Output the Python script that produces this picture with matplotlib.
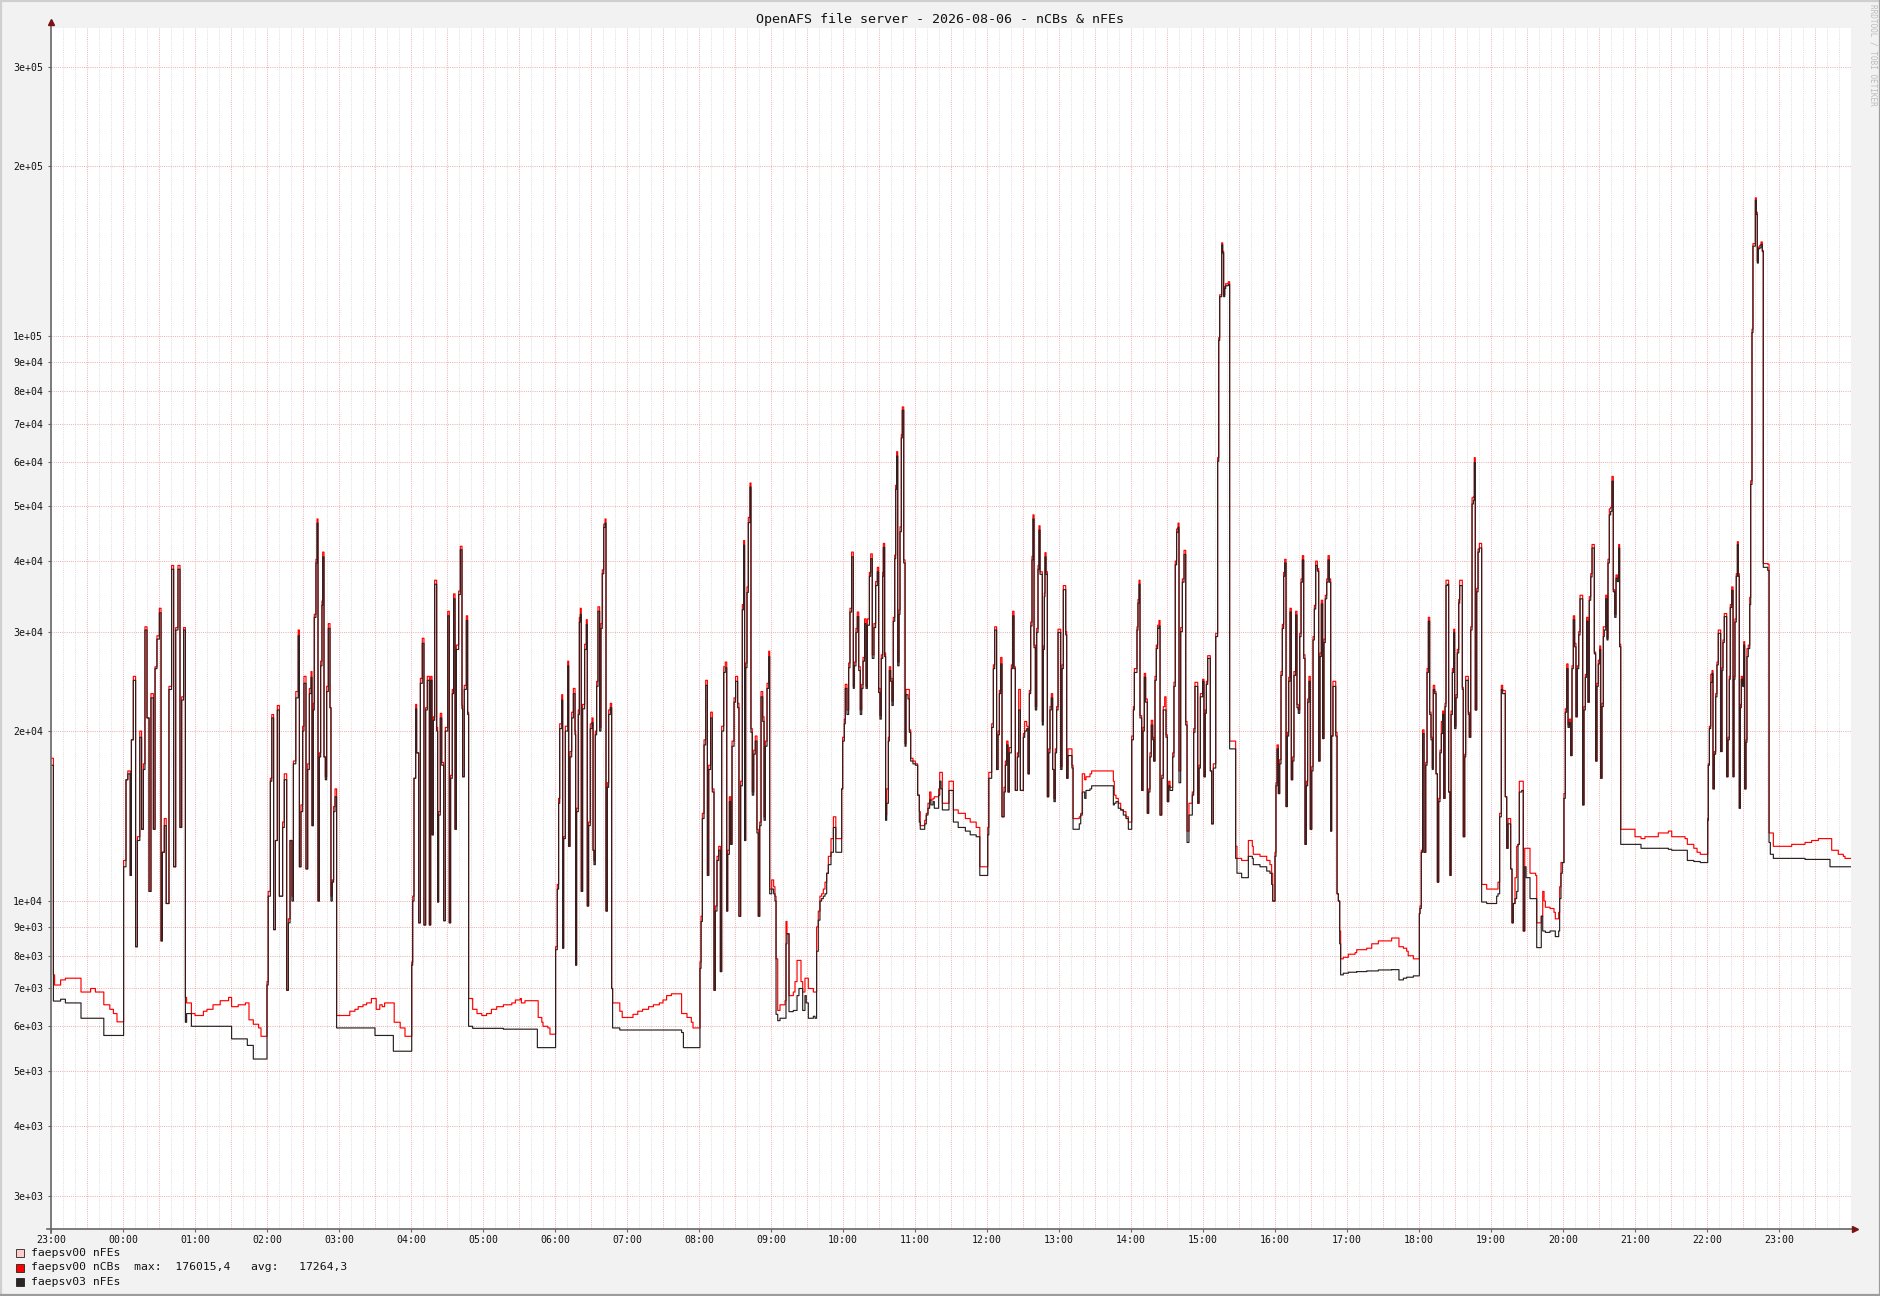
import numpy as np
import matplotlib
matplotlib.use('Agg')
import matplotlib.pyplot as plt
from matplotlib.lines import Line2D
from matplotlib.patches import Rectangle

# minutes since 23:00 (step starts), values in thousands
t_min = [
    # 23:00 quiet
    0, 2, 3, 8, 12, 25, 33, 37, 44, 49, 52, 55,
    # 00:00 busy
    60.5, 62.5, 64, 66, 67, 68.6, 70.5, 72, 74, 75.5,
    77, 78.3, 80, 81.7, 83.3, 85.3, 86.7, 88.3, 90.3, 91.7,
    92.8, 94.4, 96, 98.3, 100.5, 102.2, 103.9, 105.8, 107.5, 108.9,
    110.5,
    # 00:52 quiet
    112, 113, 117, 120, 127, 130, 135, 141, 148, 150.5,
    156, 162, 163.6, 165, 168.6, 173, 175,
    # 02:00 busy
    180, 181, 182.8, 184, 185.5, 187, 188.6, 190.3, 193, 194.4,
    196.4, 197.8, 199.2, 200.8, 202, 204, 206, 207, 208.3, 209.7,
    210.8, 212.5, 213.9, 215.3, 216.7, 217.5, 218.6, 219.4, 220.8, 221.7,
    222.5, 223.6, 224.7, 225.8, 226.4, 227.5, 228.6, 229.7, 231.1, 232.5,
    233.3, 234.4, 235.5, 236.7,
    # 02:58 quiet
    238, 249, 253.3, 256, 260, 263, 267, 270, 271, 274,
    276, 278, 285.3, 286, 291, 295,
    # 04:00 busy
    300.6, 301.4, 302.5, 303.9, 304.7, 306.4, 307.8, 309.4, 310.8, 312.2,
    313.6, 315.3, 316.4, 317.5, 318.6, 319.7, 321.4, 322.2, 323, 324.4,
    325.6, 327.2, 328.6, 330.6, 331.9, 333, 334.4, 335.5, 336.7, 337.8,
    339.7, 341.1, 342.5, 343, 344.4, 346.1, 347.2,
    # 04:48 quiet
    348, 351.4, 355, 359, 363, 367, 371.4, 377, 384, 387,
    391, 392, 395, 405.3, 406, 409, 410, 414, 415.8,
    # 06:00 busy
    420.5, 421.9, 423, 423.9, 425.6, 426.4, 427.2, 428.6, 430.6, 431.4,
    432.5, 433.9, 435.3, 436.7, 437.2, 438, 439.4, 440.3, 441.1, 441.9,
    443, 444.7, 446.1, 446.9, 448, 449.4, 450.8, 451.7, 452.5, 453.6,
    454.7, 455.8, 457.2, 458.3, 459.4, 460.6, 461.7, 462.5, 463.6, 464.7,
    466.1, 467.2,
    # 06:48 quiet
    468, 474, 476, 485, 489, 493, 498, 502, 507, 510,
    513, 517, 525.5, 527, 530, 533.6, 535,
    # 08:00 busy
    540.8, 541.7, 542.8, 544.2, 545.6, 547, 548.1, 549.7, 551.1, 552.5,
    553.6, 555, 556.4, 557.8, 558.9, 560.6, 561.9, 563.1, 563.9, 565.3,
    566.4, 567.5, 569.2, 570.5, 572.2, 573.3, 574.7, 576.1, 577.2, 578,
    578.9, 580, 581.1, 582.5, 583.3, 584.4, 585.6, 586.9, 588.3, 589.4,
    590.6, 591.7, 593.1, 594.2, 595.3, 596.7, 598.1, 598.9,
    # 09:00 low
    600.6, 602.2, 603.3, 604.2, 605.6, 607.5, 611.7, 612.5, 613.3, 615,
    618.6, 620, 621.7, 623.3, 625, 626.4, 628.3, 629.4, 631.1, 635.3,
    636.7, 638, 639.4, 640.8, 642.2, 643.6, 645, 646.4, 647.8, 650,
    652, 654, 658.9, 659.7,
    # 10:00 busy, 11:00 plateau
    661.1, 661.9, 663.3, 664.7, 665.8, 667.2, 668.6, 669.4, 670.8, 671.9,
    673.1, 674.4, 675.6, 676.7, 678, 679.2, 680.3, 682, 683.1, 684.4,
    685.8, 687.2, 688.6, 689.7, 690.8, 691.9, 693.1, 693.6, 694.7, 695.5,
    696.4, 697.8, 698.6, 699.7, 700.8, 701.9, 703.1, 703.9, 704.7, 705.6,
    706.7, 707.5, 708.6, 709.4, 710.6, 711.7, 712.5, 714.2, 715.3, 716.4,
    718.3, 720.3, 722.2, 723.6, 724.4, 728.1, 729.4, 730.8, 732.2, 733.3,
    735, 736.1, 739.7, 740.6, 741.7, 742.8, 748.3, 752, 756, 762,
    766, 771, 774,
    # 12:00 busy, 13:05 plateau
    780.6, 781.5, 783.9, 785.3, 786.4, 788, 789.2, 790.3, 791.4, 792.5,
    794.2, 795.3, 796.4, 797.5, 798.6, 800.3, 801.4, 802.5, 803.6, 805.3,
    806.4, 807.8, 810.3, 811.4, 813.1, 814.2, 815.3, 816.4, 817.5, 818.3,
    819.2, 820.3, 821.4, 822.5, 823.3, 824.2, 826.1, 826.9, 827.8, 828.3,
    829.2, 830.3, 831.4, 832.5, 833.6, 834.7, 835.8, 836.9, 838, 839.2,
    841.4, 842.5, 843.6, 845.6, 846.4, 847.5, 850.8, 851.7, 856.9, 858.1,
    859.4, 861.4, 862.5, 865.8, 867.2, 885.3, 886.1, 887.5, 889.4, 891.4,
    893.6, 895.8, 897.8,
    # 14:00 busy, 15:00 peak
    900.6, 902, 902.8, 905, 905.8, 906.7, 907.5, 908.9, 910, 911.1,
    912.2, 913.6, 914.7, 915.8, 916.9, 918.1, 918.9, 920, 921.1, 922.2,
    923.3, 924.2, 925.6, 926.9, 928.1, 929.2, 930.3, 931.4, 932.5, 934.7,
    935.8, 936.9, 938, 939.2, 940, 941.4, 942.8, 944.2, 945.6, 946.7,
    948.3, 951.1, 952.2, 953.3, 955.6, 956.7, 957.8, 959.7, 960.8, 961.9,
    962.8, 963.9, 966.1, 967.2, 968.6, 970.6, 972.2, 973.1, 973.9, 975.6,
    976.4, 977.2, 978.1, 978.9, 981.1, 982.2, 987.2, 988.3, 992.2, 997.8,
    1001.1, 1001.9, 1007.5, 1013.1, 1015.8, 1017.2, 1018.1,
    # 16:00 busy, 17:00 quiet
    1020, 1020.8, 1021.7, 1022.8, 1023.9, 1025, 1026.1, 1027.2, 1028.1, 1029.2,
    1030.3, 1031.4, 1032.5, 1033.6, 1034.7, 1035.8, 1037.2, 1038.3, 1039.4, 1040.6,
    1041.7, 1042.8, 1043.9, 1045, 1046.1, 1047.2, 1048.3, 1049.4, 1050.6, 1051.7,
    1052.8, 1053.9, 1055.3, 1056.4, 1057.5, 1058.6, 1059.7, 1060.8, 1061.9, 1063.1,
    1064.2, 1065.3, 1066.4, 1067.2, 1068.3, 1070.6, 1071.7, 1072.8, 1073.9, 1074.7,
    1076.9, 1081.1, 1086.7, 1088.1, 1096.4, 1100.6, 1106.1, 1117.2, 1123.3, 1127,
    1129.7, 1131, 1135.3,
    # 18:00 busy, 19:00 mixed
    1140.3, 1140.8, 1141.9, 1143, 1144.2, 1145.6, 1146.7, 1147.8, 1148.9, 1150,
    1151.1, 1151.9, 1153.1, 1154.2, 1155.3, 1156.4, 1157.5, 1158.6, 1159.7, 1160.6,
    1161.7, 1162.5, 1163.6, 1164.7, 1165.8, 1166.7, 1167.8, 1168.9, 1169.7, 1170.8,
    1171.9, 1173.1, 1173.9, 1176.1, 1176.9, 1178.1, 1178.9, 1181.1, 1181.9, 1183.1,
    1184.2, 1185.3, 1186.1, 1186.9, 1188.1, 1189.2, 1190.3, 1192.2, 1196.4, 1204.7,
    1205.8, 1207.2, 1208.6, 1209.7, 1211.9, 1213.1, 1214.2, 1216.4, 1217.5, 1218.6,
    1220, 1221.4, 1222.5, 1223.6, 1225.6, 1226.9, 1228.1, 1229.2, 1232.5, 1237.2,
    1238.1, 1241.9, 1243.1, 1244.2, 1245.3, 1249.2, 1252.5, 1253.6, 1256.4, 1257.2,
    1258.3, 1259.4, 1260.8,
    # 20:00 busy, 21:00 quiet
    1261.9, 1263.1, 1264.2, 1265.3, 1266.4, 1267.5, 1268.6, 1269.7, 1270.8, 1271.9,
    1273.1, 1274.2, 1276.4, 1277.5, 1278.6, 1279.7, 1280.8, 1281.9, 1283.1, 1284.2,
    1286.1, 1287.2, 1288.3, 1289.4, 1290.6, 1291.4, 1292.5, 1293.6, 1294.4, 1295.6,
    1296.7, 1297.5, 1298.6, 1299.7, 1300.8, 1301.9, 1303.1, 1304.2, 1305.3, 1306.4,
    1307.2, 1308.1, 1320, 1325, 1328.3, 1339.4, 1347.8, 1350.6, 1361.7, 1363.6,
    1369, 1371.7, 1374.4,
    # 22:00 busy + peak, 23:00 quiet
    1380.6, 1381.1, 1382, 1383.1, 1384.2, 1385, 1386.1, 1387.2, 1388.3, 1389.4,
    1391.4, 1392.5, 1393.3, 1394.4, 1396.4, 1397.5, 1398.6, 1399.4, 1400.6, 1401.7,
    1402.5, 1403.3, 1404.4, 1405.3, 1406.1, 1406.9, 1407.8, 1408.6, 1409.7, 1410.6,
    1411.4, 1412.5, 1413.3, 1414.4, 1415.6, 1416.4, 1417.5, 1418.3, 1420.3, 1421.1,
    1421.9, 1422.8, 1423.9, 1425, 1426.1, 1426.9, 1430.6, 1431.7, 1432.8, 1435.3,
    1450.6, 1461.7, 1467.2, 1472.8, 1482.5, 1483.9, 1489.4, 1493.6, 1495, 1500,
]

nfes03_k = [
    17.4, 6.65, 6.65, 6.7, 6.6, 6.2, 6.2, 6.2, 5.78, 5.78, 5.78, 5.78,
    11.5, 16.4, 16.8, 11.1, 19.3, 24.6, 8.3, 12.8, 19.5, 13.4,
    17.1, 30.2, 21.1, 10.4, 22.9, 13.4, 25.8, 29.1, 32.4, 8.5,
    12.2, 13.6, 9.9, 23.7, 38.7, 11.5, 30.2, 38.7, 13.5, 22.7,
    30.2,
    6.1, 6.32, 6.0, 6.0, 6.0, 6.0, 6.0, 6.0, 6.0, 5.7,
    5.7, 5.7, 5.55, 5.55, 5.25, 5.25, 5.25,
    7.1, 10.2, 16.3, 21.1, 8.9, 12.8, 21.8, 10.2, 13.5, 16.4,
    6.95, 9.15, 12.8, 10.0, 17.5, 22.9, 29.5, 11.5, 14.4, 20.0,
    24.3, 11.4, 17.1, 23.3, 24.9, 13.6, 21.8, 31.8, 39.7, 46.7,
    10.0, 18.0, 26.1, 33.4, 40.7, 18.0, 16.4, 23.5, 30.4, 22.0,
    10.0, 10.8, 14.4, 15.3,
    5.96, 5.96, 5.96, 5.96, 5.96, 5.96, 5.96, 5.78, 5.78, 5.78,
    5.78, 5.78, 5.42, 5.42, 5.42, 5.42,
    7.7, 10.0, 16.5, 21.9, 18.3, 9.15, 24.3, 28.6, 9.07, 21.8,
    24.6, 9.07, 24.6, 13.1, 20.9, 36.4, 20.0, 9.96, 14.2, 21.1,
    17.4, 9.23, 20.0, 32.0, 9.15, 16.5, 23.3, 34.3, 13.4, 27.9,
    34.9, 41.9, 21.9, 16.6, 23.7, 31.4, 21.4,
    6.0, 5.95, 5.95, 5.95, 5.95, 5.95, 5.95, 5.93, 5.93, 5.93,
    5.93, 5.93, 5.93, 5.5, 5.5, 5.5, 5.5, 5.5, 5.5,
    8.2, 10.5, 14.9, 20.2, 22.7, 8.25, 12.9, 20.0, 26.1, 12.5,
    18.0, 21.1, 23.3, 19.7, 7.7, 14.4, 21.4, 31.2, 32.2, 10.4,
    21.9, 27.9, 30.9, 9.8, 13.6, 20.2, 20.7, 12.3, 11.6, 19.7,
    24.0, 32.6, 20.0, 30.4, 38.0, 45.9, 46.7, 9.6, 15.9, 21.4,
    22.0, 7.0,
    5.96, 5.91, 5.91, 5.91, 5.91, 5.91, 5.91, 5.91, 5.91, 5.91,
    5.91, 5.91, 5.85, 5.5, 5.5, 5.5, 5.5,
    7.6, 9.2, 14.0, 18.9, 24.1, 11.1, 17.1, 21.1, 15.6, 6.95,
    9.6, 11.8, 12.3, 7.5, 20.0, 25.4, 25.9, 9.6, 12.1, 15.0,
    12.6, 18.8, 22.5, 24.5, 22.0, 9.4, 16.0, 32.8, 42.7, 12.8,
    25.9, 35.2, 46.8, 54.1, 19.9, 15.4, 18.2, 19.2, 13.2, 9.4,
    13.6, 23.0, 20.8, 13.9, 18.8, 23.8, 27.1, 10.3,
    10.5, 10.3, 10.0, 6.3, 6.14, 6.2, 6.2, 8.4, 8.75, 6.37,
    6.4, 6.4, 6.8, 7.0, 7.0, 6.4, 6.8, 6.6, 6.2, 6.25,
    6.2, 8.15, 9.25, 10.0, 10.1, 10.2, 10.3, 11.2, 11.6, 12.2,
    13.5, 12.2, 15.8, 19.2,
    20.6, 23.8, 21.4, 25.9, 32.5, 40.7, 23.8, 26.1, 29.9, 31.9,
    25.6, 21.4, 23.8, 26.6, 31.0, 23.8, 30.8, 37.6, 40.4, 26.9,
    30.5, 36.2, 38.3, 23.4, 21.0, 26.9, 37.6, 42.3, 27.1, 13.9,
    14.9, 19.2, 25.6, 24.5, 22.2, 31.3, 40.4, 53.6, 61.4, 26.1,
    32.2, 45.1, 66.1, 74.0, 39.7, 18.8, 23.2, 22.8, 19.9, 17.7,
    17.5, 17.4, 15.4, 13.8, 13.4, 13.7, 14.2, 14.6, 15.1, 14.8,
    15.0, 14.6, 15.4, 16.3, 15.8, 14.5, 15.7, 13.8, 13.5, 13.3,
    13.1, 13.0, 11.1,
    13.1, 16.5, 20.3, 25.8, 30.2, 17.1, 19.7, 23.3, 26.3, 14.1,
    15.6, 17.4, 18.9, 15.6, 18.3, 25.8, 32.0, 25.8, 15.7, 18.0,
    21.8, 15.7, 19.5, 20.0, 20.2, 16.8, 23.3, 30.7, 40.2, 47.5,
    28.1, 21.8, 29.9, 38.7, 45.4, 37.9, 20.5, 27.9, 34.6, 40.7,
    37.9, 15.3, 18.3, 21.8, 22.9, 17.1, 15.0, 18.3, 21.8, 29.9,
    17.1, 25.8, 35.6, 29.6, 16.5, 18.1, 17.2, 13.4, 13.7, 14.2,
    15.6, 15.2, 15.7, 15.8, 16.0, 14.8, 14.9, 15.0, 14.6, 14.5,
    14.2, 14.0, 13.4,
    19.3, 21.8, 25.4, 30.2, 33.7, 36.4, 21.1, 15.7, 20.0, 24.9,
    22.5, 14.3, 15.6, 18.0, 20.5, 19.3, 17.7, 24.6, 28.0, 30.4,
    30.7, 14.2, 16.5, 21.8, 21.8, 19.5, 15.0, 16.0, 15.7, 18.0,
    24.0, 39.4, 45.0, 45.9, 16.2, 30.0, 36.7, 41.1, 20.5, 12.7,
    14.2, 15.4, 19.9, 24.0, 14.9, 17.2, 23.0, 24.5, 16.6, 21.5,
    24.2, 26.9, 17.0, 13.7, 17.2, 29.4, 60.1, 98.4, 117.6, 145.3,
    140.5, 117.6, 121.6, 123.0, 123.6, 18.6, 11.9, 11.2, 11.0, 12.0,
    11.9, 11.6, 11.5, 11.3, 11.2, 10.7, 10.0,
    12.0, 16.0, 18.6, 15.5, 17.5, 25.1, 30.4, 37.6, 39.7, 14.7,
    19.6, 24.5, 32.5, 16.4, 17.7, 25.1, 32.1, 22.0, 21.5, 29.4,
    36.7, 40.2, 26.9, 12.6, 16.0, 22.5, 24.5, 13.4, 17.0, 29.0,
    32.9, 39.3, 38.4, 17.7, 27.1, 33.6, 19.4, 28.7, 34.3, 36.7,
    40.2, 36.7, 13.3, 19.6, 24.0, 19.6, 10.3, 10.0, 8.4, 7.4,
    7.45, 7.48, 7.48, 7.5, 7.52, 7.52, 7.55, 7.56, 7.25, 7.3,
    7.33, 7.33, 7.37,
    9.5, 9.7, 12.2, 19.8, 12.2, 17.4, 25.4, 31.3, 21.4, 19.3,
    17.1, 23.7, 23.3, 16.8, 10.8, 15.0, 18.3, 19.8, 21.4, 15.2,
    22.1, 36.2, 36.4, 15.6, 11.1, 21.4, 25.4, 29.9, 20.2, 22.9,
    27.5, 33.7, 36.2, 23.7, 13.0, 18.0, 24.6, 21.4, 19.5, 30.2,
    50.5, 51.3, 59.8, 21.8, 35.3, 41.5, 42.2, 9.96, 9.9, 10.2,
    10.3, 14.1, 23.7, 23.3, 15.3, 12.4, 13.7, 11.4, 9.15, 9.9,
    10.1, 10.4, 12.6, 15.6, 15.7, 8.85, 11.5, 11.0, 10.1, 10.1,
    8.27, 9.4, 8.85, 8.85, 8.8, 8.85, 8.85, 8.65, 8.85, 10.1,
    11.2, 11.7, 15.2,
    21.6, 25.8, 20.3, 20.7, 18.1, 25.8, 31.5, 28.2, 21.2, 25.8,
    29.6, 34.3, 14.8, 21.8, 24.9, 31.3, 22.5, 34.1, 37.5, 42.2,
    27.4, 17.7, 24.0, 26.3, 27.9, 16.5, 22.1, 29.4, 30.2, 34.3,
    29.0, 39.7, 48.3, 49.0, 55.4, 35.3, 31.8, 37.3, 36.8, 42.2,
    28.2, 12.6, 12.6, 12.4, 12.4, 12.4, 12.35, 12.3, 12.3, 11.8,
    11.75, 11.75, 11.7,
    13.9, 17.4, 20.2, 24.4, 25.3, 15.8, 18.2, 23.0, 26.2, 29.8,
    18.4, 25.6, 28.7, 31.9, 16.6, 19.3, 24.7, 33.1, 35.5, 16.6,
    24.7, 31.2, 37.6, 42.8, 37.6, 14.6, 22.0, 24.7, 24.0, 28.4,
    15.8, 19.1, 27.1, 28.0, 33.5, 54.7, 101.6, 144.5, 174.2, 164.4,
    134.9, 143.0, 143.5, 145.6, 141.3, 39.0, 38.5, 12.7, 12.1, 11.9,
    11.9, 11.85, 11.85, 11.85, 11.5, 11.5, 11.5, 11.5, 11.5, 11.5,
]

ncbs_k = [
    17.9, 7.4, 7.1, 7.25, 7.3, 6.9, 7.0, 6.9, 6.55, 6.43, 6.32, 6.11,
    11.8, 16.4, 17.0, 11.1, 19.3, 25.0, 8.3, 13.0, 20.0, 13.4,
    17.5, 30.6, 21.1, 10.4, 23.3, 13.4, 26.0, 29.5, 33.0, 8.5,
    12.2, 14.0, 9.9, 24.0, 39.3, 11.5, 30.5, 39.3, 13.5, 23.0,
    30.5,
    6.75, 6.6, 6.32, 6.27, 6.38, 6.43, 6.55, 6.66, 6.75, 6.5,
    6.55, 6.6, 6.6, 6.16, 6.05, 5.96, 5.76,
    7.2, 10.4, 16.5, 21.4, 8.9, 12.8, 22.2, 10.2, 13.8, 16.8,
    6.95, 9.3, 12.8, 10.2, 17.7, 23.5, 30.2, 11.5, 14.8, 20.4,
    25.0, 11.4, 17.5, 23.8, 25.5, 13.6, 22.4, 32.2, 40.3, 47.5,
    10.0, 18.3, 26.6, 34.0, 41.5, 18.0, 16.6, 24.0, 31.0, 22.0,
    10.2, 10.9, 14.7, 15.8,
    6.27, 6.38, 6.43, 6.5, 6.55, 6.6, 6.72, 6.72, 6.43, 6.55,
    6.5, 6.6, 6.6, 6.1, 5.96, 5.76,
    7.8, 10.2, 16.5, 22.3, 18.3, 9.15, 24.8, 29.2, 9.07, 22.0,
    25.0, 9.07, 25.0, 13.1, 21.2, 37.0, 20.3, 9.96, 14.4, 21.5,
    17.6, 9.23, 20.3, 32.6, 9.15, 16.7, 23.7, 35.0, 13.4, 28.4,
    35.4, 42.5, 22.2, 16.6, 24.1, 32.0, 21.6,
    6.72, 6.43, 6.32, 6.27, 6.32, 6.43, 6.5, 6.55, 6.6, 6.68,
    6.72, 6.6, 6.66, 6.66, 6.22, 6.1, 6.0, 5.96, 5.81,
    8.3, 10.7, 15.2, 20.6, 23.2, 8.25, 13.0, 20.4, 26.6, 12.5,
    18.4, 21.6, 23.8, 20.0, 7.7, 14.6, 21.8, 31.8, 33.0, 10.4,
    22.3, 28.5, 31.5, 9.8, 13.8, 20.6, 21.1, 12.3, 11.8, 20.0,
    24.5, 33.2, 20.3, 31.0, 38.6, 46.5, 47.5, 9.6, 16.2, 21.8,
    22.4, 7.0,
    6.6, 6.38, 6.22, 6.3, 6.38, 6.43, 6.5, 6.55, 6.6, 6.68,
    6.8, 6.85, 6.32, 6.32, 6.22, 6.1, 5.96,
    7.8, 9.4, 14.3, 19.3, 24.6, 11.1, 17.4, 21.6, 15.8, 6.95,
    9.8, 12.0, 12.5, 7.5, 20.4, 26.0, 26.5, 9.6, 12.3, 15.3,
    12.6, 19.2, 22.9, 25.0, 22.4, 9.4, 16.3, 33.5, 43.5, 12.8,
    26.4, 36.0, 47.8, 55.0, 20.2, 15.6, 18.5, 19.6, 13.4, 9.4,
    13.8, 23.5, 21.2, 14.1, 19.2, 24.3, 27.7, 10.5,
    10.9, 10.6, 10.2, 7.9, 6.4, 6.55, 6.66, 9.2, 8.75, 6.8,
    6.9, 7.2, 7.85, 7.85, 7.2, 6.9, 7.3, 7.3, 7.0, 6.9,
    6.9, 9.0, 9.6, 10.2, 10.3, 10.5, 10.8, 11.2, 12.0, 12.9,
    14.1, 12.9, 15.8, 19.5,
    21.0, 24.2, 21.8, 26.4, 33.0, 41.5, 24.0, 26.5, 30.4, 32.5,
    26.0, 21.8, 24.2, 27.0, 31.6, 24.0, 31.6, 38.2, 41.2, 27.3,
    31.0, 36.8, 39.0, 23.8, 21.3, 27.3, 38.2, 43.0, 27.5, 14.2,
    15.8, 19.5, 26.0, 24.8, 22.6, 31.8, 41.0, 54.5, 62.5, 26.5,
    32.8, 46.0, 67.0, 75.0, 40.2, 19.0, 23.7, 23.7, 20.1, 17.9,
    17.7, 17.5, 15.4, 14.4, 13.6, 13.9, 14.3, 14.9, 15.6, 15.1,
    15.2, 15.3, 15.8, 16.9, 16.9, 14.9, 16.3, 14.5, 14.3, 14.0,
    13.8, 13.5, 11.5,
    13.5, 16.9, 20.6, 26.2, 30.6, 17.1, 20.0, 23.6, 27.0, 14.1,
    15.9, 17.7, 19.2, 15.6, 18.7, 26.2, 32.6, 26.0, 15.7, 18.3,
    23.7, 15.7, 19.8, 20.8, 20.4, 16.8, 23.6, 31.2, 40.8, 48.3,
    28.4, 22.1, 30.4, 39.3, 46.2, 38.3, 20.8, 28.3, 35.1, 41.4,
    38.3, 15.3, 18.6, 22.1, 23.3, 17.1, 15.2, 18.6, 22.1, 30.3,
    17.3, 26.2, 36.2, 30.0, 16.5, 18.6, 17.4, 14.0, 14.1, 14.3,
    16.8, 16.4, 16.6, 16.8, 17.0, 16.3, 15.4, 15.2, 14.9, 14.5,
    14.4, 14.1, 13.8,
    19.6, 22.1, 25.8, 30.6, 34.2, 37.0, 21.3, 15.7, 20.3, 25.3,
    22.8, 14.3, 15.8, 18.3, 20.9, 19.5, 17.7, 25.0, 28.4, 30.8,
    31.4, 14.2, 16.7, 22.1, 23.0, 19.7, 15.0, 16.3, 15.9, 18.3,
    24.4, 40.0, 45.6, 46.7, 17.0, 30.5, 37.2, 41.8, 20.8, 13.3,
    14.9, 15.6, 20.2, 24.4, 14.9, 17.4, 23.3, 24.7, 16.6, 21.8,
    24.5, 27.2, 17.0, 13.7, 17.5, 29.8, 61.0, 99.5, 118.5, 146.5,
    141.5, 118.5, 122.5, 124.0, 125.0, 19.2, 12.5, 11.9, 11.8, 12.8,
    12.5, 12.1, 12.0, 11.8, 11.6, 11.2, 10.0,
    12.2, 16.2, 18.9, 15.5, 17.8, 25.5, 30.9, 38.2, 40.3, 14.7,
    19.9, 24.9, 33.0, 16.4, 18.0, 25.5, 32.6, 22.3, 21.8, 29.8,
    37.2, 40.9, 27.3, 12.6, 16.3, 22.8, 25.0, 13.4, 17.3, 29.4,
    33.4, 40.0, 38.8, 17.7, 27.5, 34.1, 19.4, 29.1, 34.8, 37.2,
    40.9, 37.2, 13.3, 19.6, 24.5, 19.9, 10.3, 10.0, 8.85, 7.9,
    7.95, 8.05, 8.1, 8.2, 8.25, 8.4, 8.5, 8.6, 8.3, 8.25,
    8.15, 8.0, 7.9,
    9.5, 9.8, 12.3, 20.1, 12.2, 17.6, 25.8, 31.8, 21.6, 19.5,
    17.2, 24.1, 23.5, 16.8, 10.8, 15.2, 18.5, 20.8, 21.7, 15.2,
    22.4, 37.0, 37.0, 15.6, 11.1, 21.7, 25.8, 30.3, 20.4, 23.2,
    27.9, 34.2, 37.0, 23.9, 13.0, 18.2, 25.0, 21.6, 19.5, 30.6,
    51.8, 52.0, 61.0, 21.8, 35.8, 42.0, 43.0, 10.7, 10.5, 10.5,
    10.8, 14.3, 24.1, 23.6, 15.3, 12.4, 14.0, 11.4, 9.15, 9.9,
    11.0, 12.5, 12.6, 16.3, 16.3, 8.85, 12.4, 12.4, 11.2, 11.1,
    9.15, 9.4, 10.4, 10.0, 9.75, 9.7, 9.55, 9.3, 9.55, 10.6,
    11.7, 11.7, 15.5,
    21.9, 26.3, 20.5, 21.0, 18.1, 26.1, 32.0, 28.6, 21.2, 26.1,
    30.0, 34.8, 14.8, 22.1, 25.2, 31.8, 22.5, 34.6, 38.0, 42.8,
    27.6, 17.7, 24.3, 26.7, 28.3, 16.5, 22.4, 30.6, 30.6, 34.8,
    29.2, 40.3, 49.5, 49.8, 56.5, 35.6, 32.2, 37.8, 37.3, 42.8,
    28.5, 13.4, 13.0, 12.9, 13.0, 13.2, 13.3, 13.0, 12.9, 12.6,
    12.4, 12.2, 12.1,
    14.0, 17.5, 20.4, 25.2, 25.6, 15.8, 18.4, 23.3, 26.5, 30.2,
    18.4, 25.9, 29.0, 32.3, 16.6, 19.5, 25.0, 33.5, 36.0, 16.6,
    25.0, 31.6, 38.0, 43.3, 38.0, 14.6, 22.3, 25.0, 24.3, 28.8,
    15.8, 19.3, 28.0, 28.4, 34.5, 55.5, 103.0, 146.0, 176.0, 166.0,
    136.0, 144.0, 145.0, 147.0, 142.0, 39.6, 39.5, 13.2, 13.2, 12.5,
    12.6, 12.7, 12.8, 12.9, 12.9, 12.3, 12.1, 12.0, 11.9, 11.9,
]

ytick_vals = [3e3, 4e3, 5e3, 6e3, 7e3, 8e3, 9e3, 1e4, 2e4, 3e4, 4e4,
              5e4, 6e4, 7e4, 8e4, 9e4, 1e5, 2e5, 3e5]

legend_rows = ['faepsv00 nFEs',
               'faepsv00 nCBs  max:  176015,4   avg:   17264,3',
               'faepsv03 nFEs']
legend_colors = ['#ffcccc', '#ff0000', '#2f2424']

title = 'OpenAFS file server - 2026-08-06 - nCBs & nFEs'

W, H = 1881, 1296


def fx(x):
    return x / W


def fy(y):
    return 1 - y / H


def main():
    assert len(t_min) == len(nfes03_k) == len(ncbs_k), \
        (len(t_min), len(nfes03_k), len(ncbs_k))
    plt.rcParams['font.family'] = 'DejaVu Sans Mono'

    t = np.array(t_min)
    black = np.array(nfes03_k) * 1000
    red = np.array(ncbs_k) * 1000

    fig = plt.figure(figsize=(W / 100, H / 100), dpi=100, facecolor='#f2f2f2')
    ax = fig.add_axes([fx(51), fy(1229), fx(1851) - fx(51), fy(28) - fy(1229)])
    ax.set_facecolor('white')
    ax.set_yscale('log')
    ax.set_xlim(0, 1500)
    ax.set_ylim(2625, 351800)
    for s in ax.spines.values():
        s.set_visible(False)

    # grid: 10 min grey, 30 min red, horizontal red at labels
    dots = (0, (1, 1.4))
    for m in range(10, 1500, 10):
        if m % 30 == 0:
            ax.axvline(m, color='#eca6a6', lw=0.65, ls=dots, zorder=1)
        else:
            ax.axvline(m, color='#d9d9d9', lw=0.65, ls=dots, zorder=1)
    for v in ytick_vals:
        ax.axhline(v, color='#eaa2a2', lw=0.65, ls=dots, zorder=1)

    ax.step(t, red, where='post', color='#ff0000', lw=0.85, zorder=3)
    ax.step(t, black, where='post', color='#2b2020', lw=0.85, zorder=4)

    ax.set_yticks(ytick_vals)
    ax.set_yticklabels([f'{v:.0e}' for v in ytick_vals])
    ax.yaxis.set_minor_locator(matplotlib.ticker.NullLocator())
    hours = list(range(0, 1500, 60))
    ax.set_xticks(hours)
    ax.set_xticklabels([f'{(23 + k) % 24:02d}:00' for k in range(len(hours))])
    ax.tick_params(axis='y', length=2.2, width=0.8, color='#666666', pad=3.5,
                   labelsize=7.1, labelcolor='#111111')
    ax.tick_params(axis='x', length=2.2, width=0.8, color='#666666', pad=1.8,
                   labelsize=7.1, labelcolor='#111111')

    # axes lines with arrows
    fig.add_artist(Line2D([fx(51), fx(51)], [fy(1233), fy(24)],
                          color='#666666', lw=1.2))
    fig.add_artist(Line2D([fx(47), fx(1853)], [fy(1229), fy(1229)],
                          color='#666666', lw=1.2))
    fig.add_artist(Line2D([fx(51)], [fy(22)], marker='^', ms=4.5,
                          color='#7a1414', lw=0))
    fig.add_artist(Line2D([fx(1855)], [fy(1229)], marker='>', ms=4.5,
                          color='#7a1414', lw=0))

    fig.text(0.5, fy(19), title, ha='center', va='center', fontsize=9.6,
             color='#111111')
    fig.text(fx(1873), fy(4), 'RRDTOOL / TOBI OETIKER', rotation=-90,
             ha='center', va='top', fontsize=5.6, color='#bdbdbd')

    for i, (label, col) in enumerate(zip(legend_rows, legend_colors)):
        y = 1253 + i * 14.5
        fig.add_artist(Rectangle((fx(16), fy(y + 4)), 8 / W, 8 / H,
                                 facecolor=col, edgecolor='#222222', lw=0.6))
        fig.text(fx(31), fy(y), label, ha='left', va='center', fontsize=8.2,
                 color='#111111')

    # 3d-ish frame
    fig.add_artist(Line2D([0, 1], [fy(0.8), fy(0.8)], color='#cfcfcf', lw=1.6))
    fig.add_artist(Line2D([fx(0.8), fx(0.8)], [0, 1], color='#cfcfcf', lw=1.6))
    fig.add_artist(Line2D([0, 1], [fy(1295), fy(1295)], color='#9c9c9c', lw=1.6))
    fig.add_artist(Line2D([fx(1880), fx(1880)], [0, 1], color='#9c9c9c', lw=1.6))

    fig.savefig('out.png', dpi=100, facecolor=fig.get_facecolor())


if __name__ == "__main__":
    main()
